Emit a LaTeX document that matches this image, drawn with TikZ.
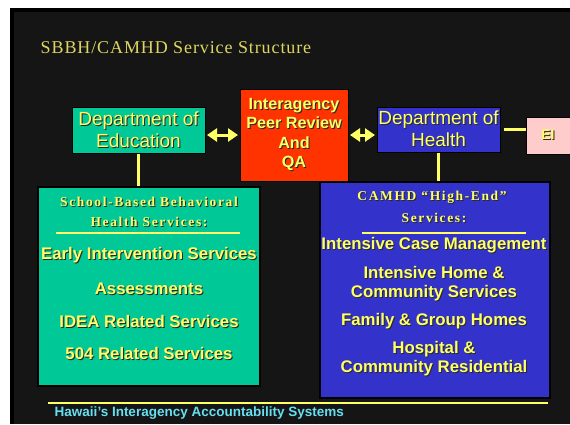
\documentclass[tikz,border=0pt]{standalone}
\usepackage{fontspec}
\setmainfont{Liberation Sans}
\newfontfamily\titlefont[LetterSpace=5]{Liberation Serif}
\newfontfamily\headfont[LetterSpace=12]{Liberation Serif}
\usetikzlibrary{arrows.meta,positioning}
\definecolor{slidebg}{RGB}{21,21,21}
\definecolor{txtyellow}{RGB}{255,255,102}
\definecolor{titleyellow}{RGB}{222,214,96}
\definecolor{eduteal}{RGB}{0,200,150}
\definecolor{qared}{RGB}{255,51,0}
\definecolor{dohblue}{RGB}{51,51,204}
\definecolor{eipink}{RGB}{255,204,204}
\definecolor{footcyan}{RGB}{102,224,240}
\definecolor{shadowgrey}{RGB}{40,40,40}
% text with a small dark drop shadow
\newcommand\shd[1]{\makebox[0pt][l]{\hspace{1pt}\raisebox{-1pt}{\color{shadowgrey}#1}}#1}
\begin{document}
\begin{tikzpicture}[x=1pt, y=-1pt, thick,
    dept/.style = {draw=black, line width=1pt, rectangle, text=txtyellow, align=center, inner sep=0pt, font=\fontsize{19}{22}\selectfont},
    bigbox/.style = {draw=black, line width=1.5pt, rectangle, inner sep=0pt},
    head/.style = {text=txtyellow, font=\headfont\bfseries\fontsize{13.5}{20}\selectfont},
    item/.style = {text=txtyellow, align=center, font=\bfseries\fontsize{16.8}{19}\selectfont},
    link/.style = {draw=txtyellow, line width=2.5pt},
    dbl/.style = {link, line width=3pt, {Triangle[length=10pt,width=13pt]}-{Triangle[length=10pt,width=13pt]}, shorten <=1.5pt, shorten >=1.5pt}]
    \useasboundingbox (0,0) rectangle (570,424);
    % slide background
    \fill[white] (0,0) rectangle (570,424);
    \fill[black] (10,8) rectangle (570,424);
    \fill[slidebg] (14,12) rectangle (570,424);
    \node[anchor=west, text=titleyellow, font=\titlefont\fontsize{18}{20}\selectfont] (title) at (37,48) {SBBH/CAMHD Service Structure};
    % top row
    \node[dept, fill=eduteal, minimum width=133pt, minimum height=46pt] (edu) at (138.5,130) {\shd{Department of}\\\shd{Education}};
    \node[dept, fill=qared, minimum width=108pt, minimum height=92pt, font=\bfseries\fontsize{16.2}{19.5}\selectfont] (qa) at (294,135) {\shd{Interagency}\\\shd{Peer Review}\\\shd{And}\\\shd{QA}};
    \node[dept, fill=dohblue, minimum width=123pt, minimum height=45pt] (doh) at (438.5,129.5) {\shd{Department of}\\\shd{Health}};
    \node[dept, fill=eipink, minimum width=50pt, minimum height=37pt, font=\bfseries\fontsize{14}{16}\selectfont] (ei) at (551,135.5) {\shd{EI}\hspace*{6pt}};
    % service boxes
    \node[bigbox, fill=eduteal, minimum width=222pt, minimum height=199pt] (sbbh) at (149,286.5) {};
    \node[bigbox, fill=dohblue, minimum width=230pt, minimum height=216pt] (camhd) at (435,290) {};
    % links
    \draw[dbl] (edu.east |- qa.west) -- (qa.west);
    \draw[dbl] (qa.east) -- (doh.west |- qa.east);
    \draw[link] ([xshift=3pt]doh.east) -- (ei.west |- doh.east);
    \draw[link] (edu.south) -- (edu.south |- sbbh.north);
    \draw[link] (doh.south) -- (doh.south |- camhd.north);
    % school-based services
    \node[head] (sh1) at (149,202) {\shd{School-Based Behavioral}};
    \node[head] (sh2) at (149,222) {\shd{Health Services:}};
    \draw[link, line width=2pt] (56,233) -- (240,233);
    \node[item] (s1) at (149,256) {\shd{Early Intervention Services}};
    \node[item] (s2) at (149,289) {\shd{Assessments}};
    \node[item] (s3) at (149,322) {\shd{IDEA Related Services}};
    \node[item] (s4) at (149,354) {\shd{504 Related Services}};
    % CAMHD services
    \node[head] (ch1) at (432,198) {\shd{CAMHD “High-End”}};
    \node[head] (ch2) at (434,218) {\shd{Services:}};
    \draw[link, line width=2pt] (362,233) -- (526,233);
    \node[item] (c1) at (434,246) {\shd{Intensive Case Management}};
    \node[item] (c2) at (434,284) {\shd{Intensive Home \&}\\\shd{Community Services}};
    \node[item] (c3) at (434,322) {\shd{Family \& Group Homes}};
    \node[item] (c4) at (434,359) {\shd{Hospital \&}\\\shd{Community Residential}};
    % footer
    \draw[link, line width=2pt] (48,403) -- (548,403);
    \node[anchor=west, text=footcyan, font=\bfseries\fontsize{13.5}{14}\selectfont] (foot) at (51,413) {Hawaii’s Interagency Accountability Systems};
\end{tikzpicture}
\end{document}
